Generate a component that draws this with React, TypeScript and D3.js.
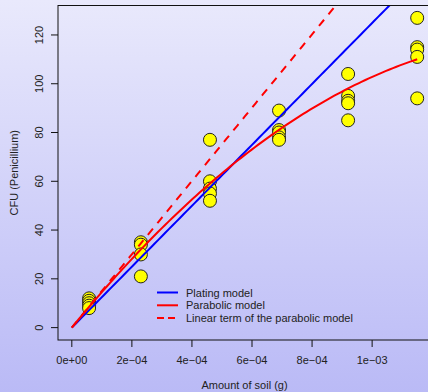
import { useRef, useEffect } from 'react';
import * as d3 from 'd3';

// soil amounts (g) and the replicate colony counts at each amount
const soilAmounts = [5.75e-5, 2.3e-4, 4.6e-4, 6.9e-4, 9.2e-4, 1.15e-3];
const counts = [
  [12, 11, 10, 9, 8],
  [35, 34, 30, 21],
  [77, 60, 57, 55, 52],
  [89, 81, 80, 78, 77],
  [104, 95, 93, 92, 85],
  [127, 115, 114, 111, 94],
];

// fitted coefficients
const platingSlope = 124900;
const linearCoef = 150300;
const quadCoef = -47500000;

const xTicks = [0, 2e-4, 4e-4, 6e-4, 8e-4, 1e-3];
const xTickLabels = ['0e+00', '2e\u221204', '4e\u221204', '6e\u221204', '8e\u221204', '1e\u221203'];
const yTicks = [0, 20, 40, 60, 80, 100, 120];

const legendLabels = ['Plating model', 'Parabolic model', 'Linear term of the parabolic model'];
const legendColors = ['#0000ff', '#ff0000', '#ff0000'];
const legendDash = [null, null, '8,7'];

export default function App() {
  const svgRef = useRef(null);

  useEffect(() => {
    const width = 428;
    const height = 392;
    const plot = { left: 58, top: 5.5, right: 431, bottom: 340 };
    const font = '"Liberation Sans", Arial, sans-serif';

    const svg = d3.select(svgRef.current);
    svg.selectAll('*').remove();

    const grad = svg.append('defs').append('linearGradient')
      .attr('id', 'bg').attr('x1', 0).attr('y1', 0).attr('x2', 0).attr('y2', 1);
    grad.append('stop').attr('offset', '0%').attr('stop-color', '#e9e9fc');
    grad.append('stop').attr('offset', '100%').attr('stop-color', '#babaf6');
    svg.append('clipPath').attr('id', 'plotclip').append('rect')
      .attr('x', plot.left).attr('y', plot.top)
      .attr('width', plot.right - plot.left).attr('height', plot.bottom - plot.top);

    svg.append('rect').attr('width', width).attr('height', height).attr('fill', 'url(#bg)');

    const x = d3.scaleLinear().domain([-4.6e-5, 1.196e-3]).range([plot.left, plot.right]);
    const y = d3.scaleLinear().domain([-5.08, 132.08]).range([plot.bottom, plot.top]);

    // points
    const pts = soilAmounts.flatMap((s, i) => counts[i].map(c => [s, c]));
    svg.append('g').selectAll('circle').data(pts).join('circle')
      .attr('cx', d => x(d[0])).attr('cy', d => y(d[1])).attr('r', 6.5)
      .attr('fill', '#ffff00').attr('stroke', '#222').attr('stroke-width', 1);

    const lines = svg.append('g').attr('clip-path', 'url(#plotclip)');
    const line = d3.line().x(d => x(d[0])).y(d => y(d[1]));
    const xsFull = d3.range(0, 101).map(i => (i / 100) * 1.2e-3);
    const xsFit = d3.range(0, 101).map(i => (i / 100) * 1.15e-3);

    lines.append('path').attr('d', line(xsFull.map(v => [v, platingSlope * v])))
      .attr('fill', 'none').attr('stroke', '#0000ff').attr('stroke-width', 2);
    lines.append('path').attr('d', line(xsFit.map(v => [v, linearCoef * v + quadCoef * v * v])))
      .attr('fill', 'none').attr('stroke', '#ff0000').attr('stroke-width', 2);
    lines.append('path').attr('d', line(xsFull.map(v => [v, linearCoef * v])))
      .attr('fill', 'none').attr('stroke', '#ff0000').attr('stroke-width', 2)
      .attr('stroke-dasharray', '8,7');

    // box
    svg.append('rect')
      .attr('x', plot.left).attr('y', plot.top)
      .attr('width', plot.right - plot.left).attr('height', plot.bottom - plot.top)
      .attr('fill', 'none').attr('stroke', '#111').attr('stroke-width', 1);

    // x axis
    const xa = svg.append('g');
    xa.selectAll('line').data(xTicks).join('line')
      .attr('x1', d => x(d)).attr('x2', d => x(d))
      .attr('y1', plot.bottom).attr('y2', plot.bottom + 7)
      .attr('stroke', '#111');
    xa.selectAll('text').data(xTicks).join('text')
      .attr('x', d => x(d)).attr('y', 364)
      .attr('text-anchor', 'middle').attr('font-family', font).attr('font-size', 11)
      .attr('fill', '#222')
      .text((d, i) => xTickLabels[i]);

    // y axis
    const ya = svg.append('g');
    ya.selectAll('line').data(yTicks).join('line')
      .attr('x1', plot.left - 7).attr('x2', plot.left)
      .attr('y1', d => y(d)).attr('y2', d => y(d))
      .attr('stroke', '#111');
    ya.selectAll('text').data(yTicks).join('text')
      .attr('transform', d => `translate(43,${y(d)}) rotate(-90)`)
      .attr('text-anchor', 'middle').attr('font-family', font).attr('font-size', 11)
      .attr('fill', '#222')
      .text(d => d);

    svg.append('text')
      .attr('x', (plot.left + plot.right) / 2).attr('y', 389)
      .attr('text-anchor', 'middle').attr('font-family', font).attr('font-size', 11)
      .attr('fill', '#222').text('Amount of soil (g)');
    svg.append('text')
      .attr('transform', `translate(18,${(plot.top + plot.bottom) / 2}) rotate(-90)`)
      .attr('text-anchor', 'middle').attr('font-family', font).attr('font-size', 11)
      .attr('fill', '#222').text('CFU (Penicillium)');

    // legend
    const lg = svg.append('g');
    legendLabels.forEach((lab, i) => {
      const ly = 292.5 + i * 12.8;
      const l = lg.append('line').attr('x1', 157).attr('x2', 178)
        .attr('y1', ly).attr('y2', ly)
        .attr('stroke', legendColors[i]).attr('stroke-width', 2);
      if (legendDash[i]) l.attr('stroke-dasharray', '7,4').attr('x1', 157);
      lg.append('text').attr('x', 186).attr('y', ly + 4)
        .attr('font-family', font).attr('font-size', 11).attr('fill', '#222')
        .text(lab);
    });
  }, []);

  return <svg ref={svgRef} width={428} height={392} style={{ position: 'absolute', left: 0, top: 0 }} />;
}
